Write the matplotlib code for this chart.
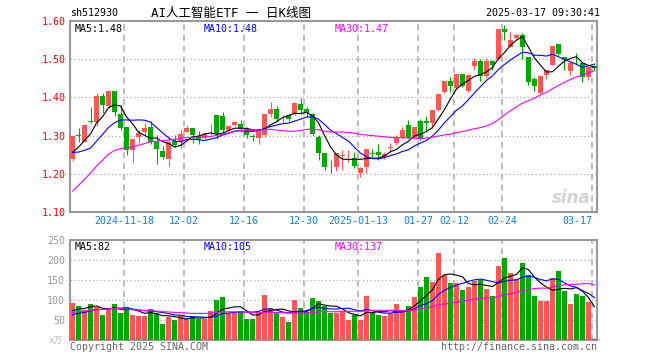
import numpy as np
import pandas as pd
import matplotlib
matplotlib.use("Agg")
import matplotlib.pyplot as plt

mono = ['DejaVu Sans Mono', 'Noto Sans CJK SC']
plt.rcParams['font.family'] = mono

RED = '#FF5656'
GREEN = '#00A800'
GRID = '#AAAAAA'

# daily candles 2024-11-05 .. 2025-03-17
opens = [1.240, 1.301, 1.284, 1.337, 1.336, 1.404, 1.377, 1.418, 1.356, 1.323,
         1.262, 1.297, 1.309, 1.323, 1.282, 1.260, 1.240, 1.286, 1.284, 1.309,
         1.321, 1.300, 1.293, 1.316, 1.354, 1.351, 1.315, 1.329, 1.330, 1.317,
         1.298, 1.295, 1.302, 1.356, 1.369, 1.348, 1.354, 1.356, 1.384, 1.369,
         1.356, 1.297, 1.255, 1.219, 1.219, 1.246, 1.248, 1.242, 1.203, 1.219,
         1.255, 1.256, 1.243, 1.268, 1.281, 1.295, 1.328, 1.293, 1.338, 1.338,
         1.332, 1.367, 1.415, 1.443, 1.424, 1.461, 1.418, 1.483, 1.494, 1.456,
         1.494, 1.500, 1.579, 1.531, 1.555, 1.563, 1.505, 1.447, 1.411, 1.459,
         1.486, 1.541, 1.507, 1.470, 1.498, 1.491, 1.454, 1.482]
highs = [1.300, 1.321, 1.330, 1.374, 1.411, 1.411, 1.419, 1.418, 1.380, 1.323,
         1.291, 1.315, 1.332, 1.338, 1.301, 1.273, 1.297, 1.302, 1.315, 1.328,
         1.321, 1.313, 1.308, 1.330, 1.354, 1.363, 1.328, 1.339, 1.341, 1.323,
         1.304, 1.319, 1.356, 1.389, 1.377, 1.354, 1.356, 1.389, 1.399, 1.374,
         1.358, 1.302, 1.255, 1.236, 1.255, 1.261, 1.262, 1.258, 1.219, 1.265,
         1.264, 1.278, 1.258, 1.280, 1.301, 1.322, 1.341, 1.323, 1.343, 1.351,
         1.367, 1.409, 1.443, 1.454, 1.460, 1.462, 1.460, 1.502, 1.500, 1.502,
         1.498, 1.579, 1.590, 1.572, 1.566, 1.568, 1.505, 1.454, 1.456, 1.473,
         1.535, 1.541, 1.507, 1.496, 1.517, 1.491, 1.480, 1.485]
lows = [1.234, 1.284, 1.282, 1.333, 1.325, 1.358, 1.372, 1.351, 1.315, 1.249,
        1.232, 1.281, 1.302, 1.278, 1.226, 1.240, 1.221, 1.271, 1.267, 1.306,
        1.280, 1.278, 1.291, 1.301, 1.290, 1.304, 1.313, 1.325, 1.310, 1.293,
        1.287, 1.277, 1.297, 1.350, 1.335, 1.332, 1.338, 1.354, 1.356, 1.350,
        1.302, 1.236, 1.210, 1.203, 1.208, 1.210, 1.232, 1.214, 1.191, 1.201,
        1.243, 1.236, 1.238, 1.260, 1.275, 1.291, 1.291, 1.290, 1.288, 1.310,
        1.319, 1.365, 1.412, 1.415, 1.422, 1.428, 1.415, 1.472, 1.444, 1.450,
        1.472, 1.498, 1.549, 1.531, 1.552, 1.500, 1.432, 1.417, 1.409, 1.447,
        1.485, 1.511, 1.472, 1.459, 1.485, 1.441, 1.445, 1.473]
closes = [1.300, 1.299, 1.328, 1.335, 1.404, 1.381, 1.418, 1.363, 1.321, 1.262,
          1.291, 1.308, 1.321, 1.284, 1.265, 1.243, 1.284, 1.275, 1.304, 1.321,
          1.301, 1.292, 1.304, 1.317, 1.304, 1.315, 1.325, 1.336, 1.317, 1.302,
          1.296, 1.317, 1.356, 1.369, 1.343, 1.350, 1.343, 1.386, 1.367, 1.358,
          1.304, 1.254, 1.219, 1.217, 1.254, 1.248, 1.250, 1.221, 1.216, 1.265,
          1.253, 1.249, 1.252, 1.270, 1.295, 1.315, 1.293, 1.323, 1.291, 1.332,
          1.367, 1.409, 1.443, 1.431, 1.460, 1.430, 1.459, 1.495, 1.456, 1.495,
          1.485, 1.579, 1.572, 1.550, 1.563, 1.531, 1.441, 1.431, 1.456, 1.473,
          1.535, 1.513, 1.498, 1.491, 1.497, 1.454, 1.479, 1.476]
# volume, 万手
volumes = [92.5, 85, 76, 90, 82.5, 62.5, 78, 90, 67.5, 82.5,
           63, 60, 60, 77.5, 67.5, 40, 57.5, 50, 62.5, 52,
           57.5, 52, 52, 72.5, 100, 107.5, 67.5, 67.5, 72.5, 52.5,
           52.5, 67.5, 112.5, 79, 70, 57.5, 45, 100, 80, 70,
           105, 98, 84, 67.5, 67.5, 72, 50, 62.5, 50, 110,
           70, 62.5, 60, 67.5, 90, 76, 85, 107.5, 132.5, 157.5,
           145, 217.5, 163, 142.5, 142.5, 125, 132.5, 147, 150, 128,
           110, 185, 205, 168, 153, 192.5, 162, 110, 98, 98,
           155, 172.5, 122.5, 90, 115, 110, 95, 3.3]

# sessions before the window (needed for the moving averages)
pre_close = [0.84, 0.85, 0.85, 0.86, 0.92, 0.94, 1.08, 1.18, 1.17,
             1.24, 1.17, 1.19, 1.16, 1.21, 1.20, 1.23,
             1.22, 1.24, 1.26, 1.27, 1.29, 1.28, 1.28,
             1.22, 1.21, 1.23, 1.24, 1.25, 1.26]
pre_vol = [30, 32, 35, 33, 38, 40, 42,
           95, 120, 110, 95, 93,
           90, 85, 88, 80, 82, 78, 86, 85,
           50, 55, 48, 52, 60, 65, 70, 68, 72]

tick_idx = [9, 19, 29, 39, 48, 58, 64, 72, 87]
tick_lab = ['2024-11-18', '12-02', '12-16', '12-30', '2025-01-13',
            '01-27', '02-12', '02-24', '03-17']

n = len(closes)
x = np.arange(n)
o = np.array(opens); c = np.array(closes)
h = np.array(highs); l = np.array(lows)
cols = np.where(c >= o, RED, GREEN)

cs = pd.Series(pre_close + closes)
vs = pd.Series(pre_vol + volumes)
ma = {k: cs.rolling(k).mean().values[-n:] for k in (5, 10, 30)}
vma = {k: vs.rolling(k).mean().values[-n:] for k in (5, 10, 30)}
line_col = {5: 'black', 10: '#0000FF', 30: '#FF00FF'}

fig = plt.figure(figsize=(6.6, 3.6), dpi=100)
ax1 = fig.add_axes([70/660, 1-212/360, 527/660, 191/360])
ax2 = fig.add_axes([70/660, 1-340/360, 527/660, 100/360])

xl = (-0.42, n - 0.58)
for ax in (ax1, ax2):
    ax.set_xlim(*xl)
    for s in ax.spines.values():
        s.set_color('#999999')
        s.set_linewidth(1.5)
    ax.set_xticks(np.array(tick_idx) - 0.4167)
    ax.xaxis.grid(True, ls=(0, (4, 3)), color=GRID, lw=1.1)
    ax.yaxis.grid(True, ls=(0, (1, 2)), color=GRID, lw=0.9)
    ax.set_axisbelow(True)
    ax.tick_params(length=0, labelsize=7.2)

# candles
ax1.vlines(x, l, h, color=cols, lw=0.8, zorder=2)
body = np.maximum(np.abs(c - o), 0.0018)
ax1.bar(x, body, 0.83, np.minimum(o, c), color=cols, lw=0, zorder=3)
for k in (5, 10, 30):
    ax1.plot(x, ma[k], color=line_col[k], lw=0.8, zorder=4)
ax1.set_ylim(1.10, 1.60)
ax1.set_yticks(np.arange(1.10, 1.601, 0.10))
ax1.set_yticklabels(['%.2f' % v for v in np.arange(1.10, 1.601, 0.10)], color='red')
ax1.set_xticklabels(tick_lab, color='#1080E0')
ax1.get_xticklabels()[-1].set_ha('right')
ax1.tick_params(axis='x', pad=3)
ax1.tick_params(axis='y', pad=3)

ax1.text(0.008, 0.985, 'MA5:1.48', transform=ax1.transAxes, va='top', fontsize=7.2, color='black')
ax1.text(0.254, 0.985, 'MA10:1.48', transform=ax1.transAxes, va='top', fontsize=7.2, color='#0000FF')
ax1.text(0.503, 0.985, 'MA30:1.47', transform=ax1.transAxes, va='top', fontsize=7.2, color='#FF00FF')

# volume
ax2.bar(x, volumes, 0.83, color=cols, lw=0, zorder=3)
for k in (5, 10, 30):
    ax2.plot(x, vma[k], color=line_col[k], lw=0.8, zorder=4)
ax2.set_ylim(0, 250)
ax2.set_yticks([50, 100, 150, 200, 250])
ax2.set_yticklabels(['50', '100', '150', '200', '250'], color='#999999')
ax2.set_xticklabels([])
ax2.text(0.008, 0.975, 'MA5:82', transform=ax2.transAxes, va='top', fontsize=7.2, color='black')
ax2.text(0.254, 0.975, 'MA10:105', transform=ax2.transAxes, va='top', fontsize=7.2, color='#0000FF')
ax2.text(0.503, 0.975, 'MA30:137', transform=ax2.transAxes, va='top', fontsize=7.2, color='#FF00FF')

# header / footer
fig.text(70/660, 1-13/360, 'sh512930', fontsize=7.2, va='center', color='black')
fig.text(231/660, 1-13/360, 'AI人工智能ETF 一 日K线图', fontsize=9, va='center', ha='center', color='black')
fig.text(600/660, 1-13/360, '2025-03-17 09:30:41', fontsize=7.2, va='center', ha='right', color='black')
fig.text(63/660, 1-341/360, 'x万', fontsize=6.5, va='center', ha='right', color='#BBBBBB')
fig.text(70/660, 1-347/360, 'Copyright 2025 SINA.COM', fontsize=7.2, va='center', color='#666666')
fig.text(597/660, 1-347/360, 'http://finance.sina.com.cn', fontsize=7.2, va='center', ha='right', color='#666666')
fig.text(571/660, 1-198/360, 'sina', fontsize=12, va='center', ha='center', color='#C8C8C8',
         family='DejaVu Sans', style='italic', weight='bold', alpha=0.8)

fig.savefig('out.png', dpi=100)
